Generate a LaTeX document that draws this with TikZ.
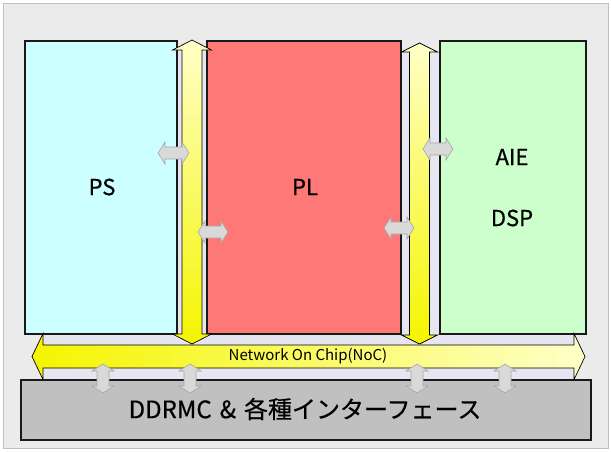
\documentclass[tikz,border=0pt]{standalone}
\usepackage{fontspec}
\setmainfont{Noto Sans CJK JP}
\newfontfamily\labfont[FakeBold=0.6]{Noto Sans CJK JP}
\definecolor{bggray}{HTML}{EBEBEB}
\definecolor{framegray}{HTML}{C0C0C0}
\definecolor{lav}{HTML}{E6E6F0}
\definecolor{pscol}{HTML}{CCFFFF}
\definecolor{plcol}{HTML}{FF7878}
\definecolor{aiecol}{HTML}{CCFFCC}
\definecolor{ddrcol}{HTML}{C0C0C0}
\definecolor{ylight}{HTML}{FFFFC8}
\definecolor{ystrong}{HTML}{F5F500}
\definecolor{cfill}{HTML}{D9D9D9}
\definecolor{cline}{HTML}{A6A6A6}
% vertical double arrow: cx, ytop, ybot, shaft half, head half, head length
\newcommand\VDArrow[6]{(#1,#2) -- (#1+#5,#2+#6) -- (#1+#4,#2+#6) -- (#1+#4,#3-#6) -- (#1+#5,#3-#6) -- (#1,#3) -- (#1-#5,#3-#6) -- (#1-#4,#3-#6) -- (#1-#4,#2+#6) -- (#1-#5,#2+#6) -- cycle}
% horizontal double arrow: cy, xleft, xright, shaft half, head half, head length
\newcommand\HDArrow[6]{(#2,#1) -- (#2+#6,#1-#5) -- (#2+#6,#1-#4) -- (#3-#6,#1-#4) -- (#3-#6,#1-#5) -- (#3,#1) -- (#3-#6,#1+#5) -- (#3-#6,#1+#4) -- (#2+#6,#1+#4) -- (#2+#6,#1+#5) -- cycle}
\tikzset{
  block/.style={draw=black!90, line width=1.5pt},
  bus/.style={draw=black, line width=0.7pt},
  conn/.style={draw=cline, fill=cfill, line width=0.6pt},
  lbl/.style={font=\labfont\fontsize{22}{26}\selectfont, text=black},
}
\begin{document}
\begin{tikzpicture}[x=1pt,y=-1pt]
\useasboundingbox (0,0) rectangle (611,451);
\fill[white] (0,0) rectangle (611,451);
\draw[draw=framegray, fill=bggray, line width=1pt] (3,3) rectangle (608,448);
% lavender channels
\fill[lav] (177,50) rectangle (207,334);
\fill[lav] (401,52) rectangle (440,334);
\fill[lav] (43,334) rectangle (574,380);
% blocks
\node[block, fill=pscol, minimum width=152pt, minimum height=293pt, inner sep=0pt] (ps) at (101,187.5) {};
\node[block, fill=plcol, minimum width=194pt, minimum height=293pt, inner sep=0pt] (pl) at (304,187.5) {};
\node[block, fill=aiecol, minimum width=146pt, minimum height=293pt, inner sep=0pt] (aie) at (513,187.5) {};
\node[block, fill=ddrcol, minimum width=570pt, minimum height=60pt, inner sep=0pt] (ddr) at (306,410) {};
% labels
\node[lbl] (pst) at (102,187) {PS};
\node[lbl] (plt) at (305,187) {PL};
\node[lbl] (aiet) at (512,157) {AIE};
\node[lbl] (dspt) at (512,218) {DSP};
\node[font=\labfont\fontsize{24}{28}\selectfont] (ddrt) at (305,409) {DDRMC\,\,\&\,\,各種インターフェース};
% vertical buses
\draw[bus, top color=ylight, bottom color=ystrong] \VDArrow{192}{40}{344}{10}{19.5}{10};
\draw[bus, top color=ylight, bottom color=ystrong] \VDArrow{419.5}{43}{344}{10}{18}{9};
% NoC bus
\draw[bus, left color=ystrong, right color=ylight] \HDArrow{356.5}{32}{585}{11.5}{23}{11};
\node[font=\fontsize{15}{17}\selectfont] (noct) at (308,356) {Network On Chip(NoC)};
% connectors NoC <-> DDR
\draw[conn] \VDArrow{103}{364}{393}{6}{11}{7};
\draw[conn] \VDArrow{190}{364}{393}{6}{11}{7};
\draw[conn] \VDArrow{417}{364}{393}{6}{11}{7};
\draw[conn] \VDArrow{505}{364}{393}{6}{11}{7};
% connectors blocks <-> buses
\draw[conn] \HDArrow{153}{158}{189}{6}{11}{7};
\draw[conn] \HDArrow{232}{198}{228}{6}{11}{7};
\draw[conn] \HDArrow{228}{384}{414}{6}{11}{7};
\draw[conn] \HDArrow{149}{423}{453}{6}{11}{7};
\end{tikzpicture}
\end{document}
